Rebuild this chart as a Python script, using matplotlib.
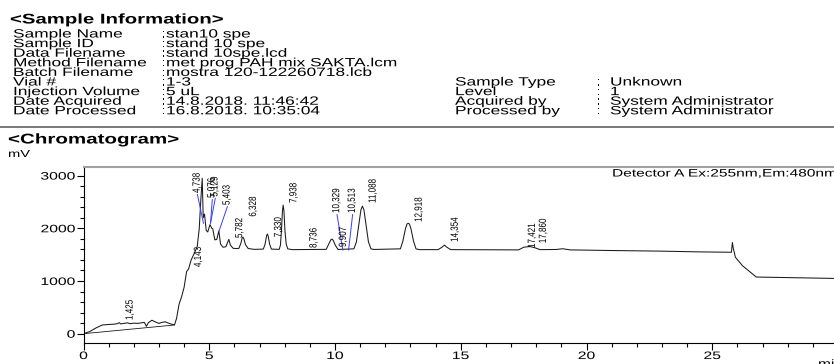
import matplotlib
matplotlib.use("Agg")
import matplotlib.pyplot as plt
import matplotlib.patheffects as pe
from matplotlib.lines import Line2D
from matplotlib.transforms import Affine2D
from matplotlib.ticker import MultipleLocator

W, H = 834, 364

# chromatogram trace (min, mV)
time_min = [
    0.00, 0.25, 0.50, 0.75, 1.00, 1.20, 1.35, 1.42, 1.48, 1.60, 1.75, 1.85,
    2.00, 2.15, 2.30, 2.42, 2.50, 2.58, 2.72, 2.85, 3.00, 3.12, 3.25, 3.38,
    3.50, 3.62, 3.70, 3.80, 3.90, 4.00, 4.10, 4.18, 4.28, 4.40, 4.52, 4.60,
    4.66, 4.72, 4.76, 4.81, 4.88, 4.94, 5.03, 5.10, 5.14, 5.22, 5.30, 5.38,
    5.45, 5.55, 5.66, 5.72, 5.78, 5.84, 5.95, 6.10, 6.18, 6.26, 6.31, 6.34,
    6.37, 6.44, 6.55, 6.80, 7.15, 7.22, 7.28, 7.31, 7.34, 7.40, 7.47, 7.78,
    7.83, 7.87, 7.91, 7.94, 7.97, 8.01, 8.06, 8.12, 8.30, 9.65, 9.75, 9.84,
    9.88, 9.93, 10.01, 10.12, 10.75, 10.85, 10.95, 11.03, 11.09, 11.15, 11.23,
    11.33, 11.43, 11.55, 12.60, 12.70, 12.80, 12.86, 12.91, 12.96, 13.02,
    13.12, 13.22, 13.35, 14.10, 14.25, 14.35, 14.45, 14.60, 17.30, 17.50,
    17.75, 17.95, 18.15, 18.80, 19.05, 19.35, 21.00, 23.00, 24.50, 25.76,
    25.80, 25.84, 25.92, 26.20, 26.75, 28.00, 29.90,
]
signal_mv = [
    0, 40, 110, 165, 175, 180, 190, 210, 185, 195, 205, 190,
    200, 195, 205, 215, 140, 210, 255, 225, 195, 215, 225, 200,
    180, 170, 290, 560, 700, 880, 1180, 1230, 1400, 1520, 1650, 1980,
    2500, 2950, 2200, 2270, 1960, 1930, 2070, 2000, 1990, 1780, 1790, 1950,
    1700, 1640, 1650, 1720, 1790, 1680, 1620, 1615, 1620, 1720, 1820, 1830,
    1810, 1690, 1615, 1600, 1605, 1700, 1860, 1890, 1860, 1700, 1605, 1600,
    1680, 1950, 2330, 2440, 2330, 1950, 1700, 1610, 1595, 1600, 1700, 1785,
    1795, 1770, 1680, 1598, 1610, 1740, 2080, 2350, 2420, 2350, 2080,
    1740, 1610, 1598, 1610, 1760, 1990, 2080, 2095, 2080, 1990,
    1760, 1610, 1595, 1595, 1640, 1680, 1640, 1595, 1590, 1640,
    1655, 1630, 1595, 1598, 1612, 1590, 1578, 1566, 1552, 1545,
    1730, 1610, 1450, 1290, 1075, 1065, 1048,
]

# straight integration baseline under the first hump
base_time = [0.0, 3.62]
base_mv = [0, 165]

# peak labels in black (retention time, height of label foot in mV)
peak_labels = ["1,425", "4,143", "5,782", "6,328", "7,330", "7,938", "8,736",
               "9,907", "11,088", "12,918", "14,354", "17,421", "17,860"]
peak_times = [1.425, 4.143, 5.782, 6.328, 7.330, 7.938, 8.736,
              9.907, 11.088, 12.918, 14.354, 17.421, 17.860]
label_mv = [260, 1265, 1815, 2220, 1830, 2480, 1626,
            1645, 2480, 2120, 1740, 1626, 1717]

# labels with blue leader lines
lead_labels = ["4,738", "5,076", "5,129", "5,403", "10,329", "10,513"]
lead_text_t = [4.53, 5.12, 5.24, 5.72, 10.08, 10.70]
lead_text_mv = [2670, 2575, 2600, 2440, 2290, 2290]
lead_peak_t = [4.77, 5.05, 5.05, 5.38, 10.31, 10.54]
lead_peak_mv = [2095, 2095, 2095, 1935, 1588, 1588]

info_keys = ["Sample Name", "Sample ID", "Data Filename", "Method Filename",
             "Batch Filename", "Vial #", "Injection Volume", "Date Acquired",
             "Date Processed"]
info_vals = ["stan10 spe", "stand 10 spe", "stand 10spe.lcd",
             "met prog PAH mix SAKTA.lcm", "mostra 120-122260718.lcb", "1-3",
             "5 uL", "14.8.2018. 11:46:42", "16.8.2018. 10:35:04"]
extra_keys = ["Sample Type", "Level", "Acquired by", "Processed by"]
extra_vals = ["Unknown", "1", "System Administrator", "System Administrator"]

x_ticks = [0, 5, 10, 15, 20, 25]
y_ticks = [0, 1000, 2000, 3000]


class Stretch(pe.AbstractPathEffect):
    # the report is printed wide, so glyphs get stretched
    def __init__(self, sx=1.0, sy=1.0, anchor="left"):
        super().__init__()
        self.sx, self.sy, self.anchor = sx, sy, anchor

    def draw_path(self, renderer, gc, tpath, affine, rgbFace=None):
        ext = tpath.get_extents()
        cx = {"left": 0.0, "center": (ext.x0 + ext.x1) / 2, "right": ext.x1}[self.anchor]
        cy = (ext.y0 + ext.y1) / 2
        t = Affine2D().translate(-cx, -cy).scale(self.sx, self.sy).translate(cx, cy)
        renderer.draw_path(gc, tpath, t + affine, rgbFace)


FONT = "Liberation Sans"
SX = 1.45

fig = plt.figure(figsize=(W / 100, H / 100), dpi=100)


def ftext(x, y, s, size, weight="normal", **kw):
    fig.text(x / W, 1 - y / H, s, fontsize=size, fontweight=weight, family=FONT,
             va=kw.pop("va", "baseline"), path_effects=[Stretch(SX)], **kw)


ftext(10, 23.5, "<Sample Information>", 10.1, "bold")
for i, (k, v) in enumerate(zip(info_keys, info_vals)):
    y = 37.5 + i * 9.6
    ftext(13, y, k, 8.6)
    ftext(161, y, ":", 8.6)
    ftext(166, y, v, 8.6)
for i, (k, v) in enumerate(zip(extra_keys, extra_vals)):
    y = 37.5 + (i + 5) * 9.6
    ftext(455, y, k, 8.6)
    ftext(596, y, ":", 8.6)
    ftext(610, y, v, 8.6)

fig.add_artist(Line2D([0, 1], [1 - 127 / H] * 2, transform=fig.transFigure,
                      color="#555555", lw=1.1))
ftext(8, 143.5, "<Chromatogram>", 10.2, "bold")
ftext(8, 157, "mV", 7.3)
ftext(612, 176.5, "Detector A Ex:255nm,Em:480nm", 7.7)
ftext(818, 359, "min", 7.7, va="top")

left, right, top, bottom = 83.5, 834, 167.3, 342.7
ax = fig.add_axes([left / W, 1 - bottom / H, (right - left) / W, (bottom - top) / H])

ax.plot(time_min, signal_mv, color="#1a1a1a", lw=0.75)
ax.plot(base_time, base_mv, color="#1a1a1a", lw=0.6)

for s, t, m in zip(peak_labels, peak_times, label_mv):
    ax.text(t + 0.44, m, s, rotation=90, ha="center", va="bottom", fontsize=5.8,
            family=FONT, path_effects=[Stretch(sy=1.3, anchor="center")])

for s, tt, tm, pt, pm in zip(lead_labels, lead_text_t, lead_text_mv, lead_peak_t, lead_peak_mv):
    ax.plot([tt, pt], [tm - 30, pm], color="#3b3bff", lw=0.7)
    ax.text(tt, tm, s, rotation=90, ha="center", va="bottom", fontsize=5.8,
            family=FONT, path_effects=[Stretch(sy=1.3, anchor="center")])

ax.set_xlim(0, 29.84)
ax.set_ylim(-171, 3157)
ax.set_xticks(x_ticks)
ax.set_yticks(y_ticks)
ax.xaxis.set_minor_locator(MultipleLocator(1))
ax.yaxis.set_minor_locator(MultipleLocator(200))
ax.tick_params(which="major", direction="out", length=5, width=0.8, labelsize=7.8, pad=1)
ax.tick_params(which="minor", direction="out", length=3, width=0.8)
for lbl in ax.get_yticklabels():
    lbl.set_family(FONT)
    lbl.set_path_effects([Stretch(SX, anchor="right")])
for lbl in ax.get_xticklabels():
    lbl.set_family(FONT)
    lbl.set_path_effects([Stretch(SX, anchor="center")])

ax.spines["right"].set_visible(False)
ax.spines["top"].set_color("#a0a0a0")
ax.spines["top"].set_linewidth(1.5)
ax.spines["left"].set_linewidth(0.8)
ax.spines["bottom"].set_linewidth(0.8)

fig.savefig("out.png", dpi=100)
